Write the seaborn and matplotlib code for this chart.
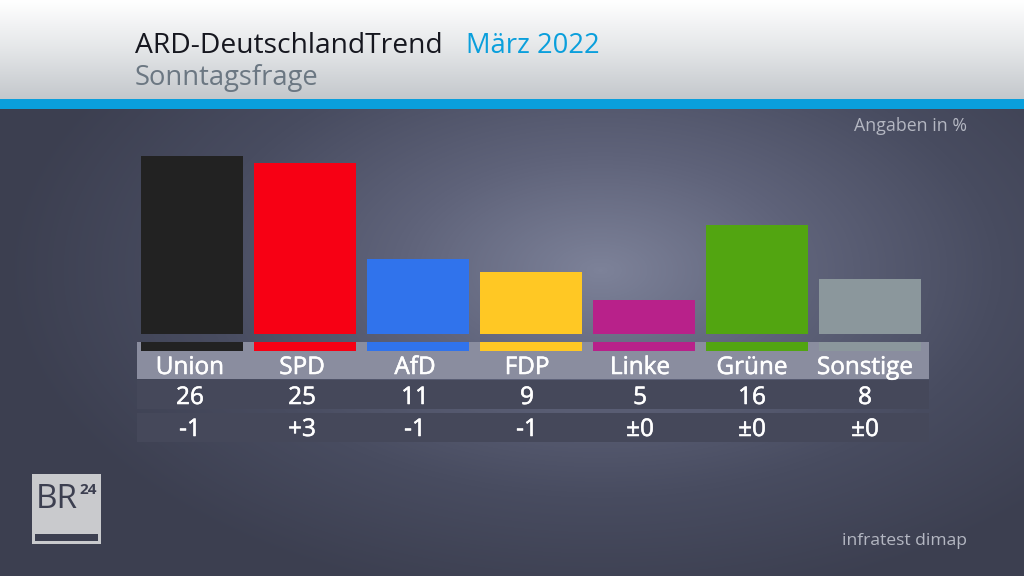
import numpy as np
import pandas as pd
import matplotlib
matplotlib.use("Agg")
import matplotlib.pyplot as plt
import matplotlib.patheffects as pe
from matplotlib.colors import LinearSegmentedColormap
from matplotlib.patches import Rectangle
import seaborn as sns

parties = ["Union", "SPD", "AfD", "FDP", "Linke", "Grüne", "Sonstige"]
values = [26, 25, 11, 9, 5, 16, 8]
changes = ["-1", "+3", "-1", "-1", "±0", "±0", "±0"]
colors = ["#222222", "#f70014", "#3073ec", "#ffc824", "#b8218a", "#52a511", "#8b979c"]

sns.set_theme(style="white")
plt.rcParams["font.family"] = ["Open Sans", "DejaVu Sans"]

W, H = 1024, 576
fig = plt.figure(figsize=(W / 100, H / 100), dpi=100)

bg = fig.add_axes([0, 0, 1, 1])
bg.axis("off")

# radial background
yy, xx = np.mgrid[109:576, 0:1024]
r = np.sqrt(((xx - 600) / 600.0) ** 2 + ((yy - 270) / 340.0) ** 2)
cmap = LinearSegmentedColormap.from_list("bg", ["#7d8299", "#5f637a", "#484c60", "#3c3f50"])
field = np.clip(r, 0, 1)
bg.imshow(field, extent=(0, W, 576, 109), cmap=cmap, vmin=0, vmax=1, aspect="auto", zorder=0)

# header gradient
g = np.linspace(0, 1, 100).reshape(-1, 1)
hc = LinearSegmentedColormap.from_list("hd", ["#ffffff", "#e4e6e8", "#c4c8cc"])
bg.imshow(g, extent=(0, W, 99, 0), cmap=hc, aspect="auto", zorder=1)
bg.add_patch(Rectangle((0, 99), W, 10, color="#0a9fdc", zorder=2, lw=0))
bg.set_xlim(0, W); bg.set_ylim(H, 0)

# table rows
bg.add_patch(Rectangle((137, 342), 792, 37, color="#8a8d9f", lw=0, zorder=1))
bg.add_patch(Rectangle((137, 380), 792, 28.5, color="#45485a", lw=0, zorder=1))
bg.add_patch(Rectangle((137, 413), 792, 29, color="#45485a", lw=0, zorder=1))

# bars: y=0 sits at pixel 334
px_unit = 6.84
top_px, bot_px = 120, 351
ax = fig.add_axes([137 / W, 1 - bot_px / H, 792 / W, (bot_px - top_px) / H])
ax.patch.set_alpha(0)
df = pd.DataFrame({"party": parties, "value": values})
sns.barplot(data=df, x="party", y="value", hue="party", palette=colors, legend=False,
            order=parties, hue_order=parties, width=0.9, saturation=1, linewidth=0, ax=ax, zorder=3)
stub = df.assign(value=-17 / px_unit)
sns.barplot(data=stub, x="party", y="value", hue="party", palette=colors, legend=False,
            order=parties, hue_order=parties, width=0.9, saturation=1, linewidth=0, ax=ax, zorder=2)
ax.set_xlim(-0.487, 6.522)
ax.set_ylim(-(bot_px - 334) / px_unit, (334 - top_px) / px_unit)
ax.axis("off")

# gap between bars and stubs shows the background
fg = fig.add_axes([0, 0, 1, 1])
fg.patch.set_alpha(0); fg.axis("off")
fg.imshow(field[334 - 109:342 - 109, 137:929], extent=(137, 929, 342, 334), cmap=cmap,
          vmin=0, vmax=1, aspect="auto")
fg.set_xlim(0, W); fg.set_ylim(H, 0)

heavy = [pe.withStroke(linewidth=0.4, foreground="white")]
cx = [190, 302, 415, 527, 640, 752, 865]
for x, p, v, c in zip(cx, parties, values, changes):
    fg.text(x, 368, p, color="white", fontsize=17.5, ha="center", va="center", path_effects=heavy)
    fg.text(x, 398, str(v), color="white", fontsize=17.5, ha="center", va="center", path_effects=heavy)
    fg.text(x, 430, c, color="white", fontsize=17.5, ha="center", va="center", path_effects=heavy)

fg.text(135, 46, "ARD-DeutschlandTrend", color="#16171f", fontsize=20.3, ha="left", va="center")
fg.text(466, 46, "März 2022", color="#0a9fdc", fontsize=19.7, ha="left", va="center")
fg.text(135, 78, "Sonntagsfrage", color="#6b7782", fontsize=19.7, ha="left", va="center")
fg.text(967, 126, "Angaben in %", color="#b4b7c2", fontsize=12.8, ha="right", va="center")
fg.text(967, 541, "infratest dimap", color="#b4b7c2", fontsize=12.6, ha="right", va="center")

# BR24 logo
fg.add_patch(Rectangle((32, 474), 69, 70, color="#c9cacd", lw=0))
fg.add_patch(Rectangle((35, 534), 63, 7, color="#3c3f50", lw=0))
fg.text(36, 500, "BR", color="#3c3f50", fontsize=24, ha="left", va="center")
fg.text(79, 490, "24", color="#3c3f50", fontsize=11, fontweight="bold", ha="left", va="center")

fig.savefig("out.png", dpi=100)
